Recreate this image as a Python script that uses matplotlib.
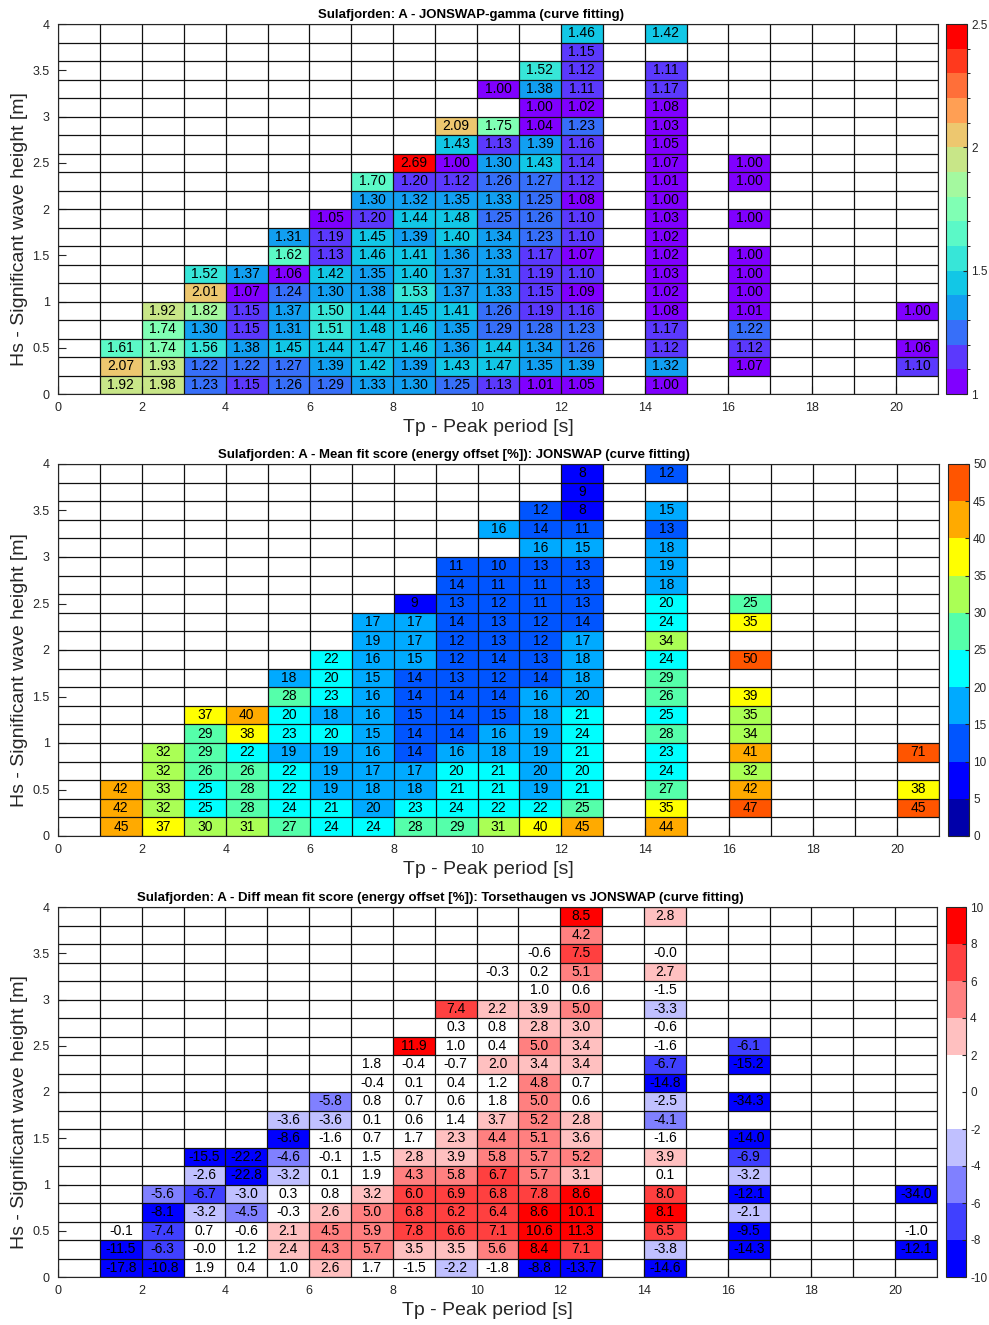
import matplotlib
matplotlib.use("Agg")
import matplotlib.pyplot as plt
import numpy as np
from matplotlib.colors import ListedColormap, BoundaryNorm
from matplotlib.cm import ScalarMappable
from matplotlib.ticker import FormatStrFormatter

plt.rcParams['font.family'] = ['Liberation Sans', 'DejaVu Sans']

# Tp bins (left edge, 1 s wide) that hold data; each list runs up the Hs bins (0.2 m) from 0
tp_cols = [1, 2, 3, 4, 5, 6, 7, 8, 9, 10, 11, 12, 14, 16, 20]

gamma = [
    [1.92, 2.07, 1.61],
    [1.98, 1.93, 1.74, 1.74, 1.92],
    [1.23, 1.22, 1.56, 1.30, 1.82, 2.01, 1.52],
    [1.15, 1.22, 1.38, 1.15, 1.15, 1.07, 1.37],
    [1.26, 1.27, 1.45, 1.31, 1.37, 1.24, 1.06, 1.62, 1.31],
    [1.29, 1.39, 1.44, 1.51, 1.50, 1.30, 1.42, 1.13, 1.19, 1.05],
    [1.33, 1.42, 1.47, 1.48, 1.44, 1.38, 1.35, 1.46, 1.45, 1.199, 1.30, 1.70],
    [1.30, 1.39, 1.46, 1.46, 1.45, 1.53, 1.40, 1.41, 1.39, 1.44, 1.32, 1.199, 2.69],
    [1.25, 1.43, 1.36, 1.35, 1.41, 1.37, 1.37, 1.36, 1.40, 1.48, 1.35, 1.12, 1.00, 1.43, 2.09],
    [1.13, 1.47, 1.44, 1.29, 1.26, 1.33, 1.31, 1.33, 1.34, 1.25, 1.33, 1.26, 1.30, 1.13, 1.75,
     None, 1.00],
    [1.01, 1.35, 1.34, 1.28, 1.19, 1.15, 1.19, 1.17, 1.23, 1.26, 1.25, 1.27, 1.43, 1.39, 1.04,
     1.00, 1.38, 1.52],
    [1.05, 1.39, 1.26, 1.23, 1.16, 1.09, 1.10, 1.07, 1.10, 1.10, 1.08, 1.12, 1.14, 1.16, 1.23,
     1.02, 1.11, 1.12, 1.15, 1.46],
    [1.00, 1.32, 1.12, 1.17, 1.08, 1.02, 1.03, 1.02, 1.02, 1.03, 1.00, 1.01, 1.07, 1.05, 1.03,
     1.08, 1.17, 1.11, None, 1.42],
    [None, 1.07, 1.12, 1.22, 1.01, 1.00, 1.00, 1.00, None, 1.00, None, 1.00, 1.00],
    [None, 1.10, 1.06, None, 1.00],
]

fit_score = [
    [44.6, 42, 42],
    [37, 32, 33, 32, 32],
    [30, 24.8, 24.6, 26, 29, 29, 37],
    [31, 28, 28, 26, 22, 38, 40.2],
    [27, 24, 22, 22, 19, 23, 20.3, 28, 18],
    [24, 21, 19, 19, 19, 20.2, 18, 23, 20.3, 22],
    [24, 19.7, 18, 17, 16, 15.2, 16, 16, 15.3, 16, 19, 17],
    [28, 23, 18, 17, 14, 14, 14.8, 14, 14, 15.2, 17, 17, 9],
    [29, 24, 21, 20.2, 16, 14, 14, 14, 13, 12, 12, 14, 13, 14, 11],
    [31, 22, 21, 21, 18, 16, 14.8, 14, 12, 14, 13, 13, 12, 11, 10.2, None, 16],
    [39.8, 22, 19, 19.7, 19, 19, 18, 16, 14, 13, 12, 12, 11, 11, 13, 16, 14, 12],
    [44.7, 25.2, 21, 20.3, 21, 24, 21, 19.8, 18, 18, 17, 14, 13, 13, 13, 15.2, 11, 8, 9, 8],
    [44, 35.2, 27, 24, 23, 28, 24.8, 26, 29, 24, 34, 24, 20.2, 18, 19, 18, 13, 15.2, None, 12],
    [None, 47, 42, 32, 41, 34, 34.8, 39, None, 50, None, 35.2, 25.2],
    [None, 45.2, 38, None, 71],
]

diff_score = [
    [-17.8, -11.5, -0.1],
    [-10.8, -6.3, -7.4, -8.1, -5.6],
    [1.9, -0.04, 0.7, -3.2, -6.7, -2.6, -15.5],
    [0.4, 1.2, -0.6, -4.5, -3.0, -22.8, -22.2],
    [1.0, 2.4, 2.1, -0.3, 0.3, -3.2, -4.6, -8.6, -3.6],
    [2.6, 4.3, 4.5, 2.6, 0.8, 0.1, -0.1, -1.6, -3.6, -5.8],
    [1.7, 5.7, 5.9, 5.0, 3.2, 1.9, 1.5, 0.7, 0.1, 0.8, -0.4, 1.8],
    [-1.5, 3.5, 7.8, 6.8, 6.0, 4.3, 2.8, 1.7, 0.6, 0.7, 0.1, -0.4, 11.9],
    [-2.2, 3.5, 6.6, 6.2, 6.9, 5.8, 3.9, 2.3, 1.4, 0.6, 0.4, -0.7, 1.0, 0.3, 7.4],
    [-1.8, 5.6, 7.1, 6.4, 6.8, 6.7, 5.8, 4.4, 3.7, 1.8, 1.2, 2.0, 0.4, 0.8, 2.2, None, -0.3],
    [-8.8, 8.4, 10.6, 8.6, 7.8, 5.7, 5.7, 5.1, 5.2, 5.0, 4.8, 3.4, 5.0, 2.8, 3.9, 1.0, 0.2, -0.6],
    [-13.7, 7.1, 11.3, 10.1, 8.6, 3.1, 5.2, 3.6, 2.8, 0.6, 0.7, 3.4, 3.4, 3.0, 5.0, 0.6, 5.1,
     7.5, 4.2, 8.5],
    [-14.6, -3.8, 6.5, 8.1, 7.96, 0.1, 3.9, -1.6, -4.1, -2.5, -14.8, -6.7, -1.6, -0.6, -3.3,
     -1.5, 2.7, -0.04, None, 2.8],
    [None, -14.3, -9.5, -2.1, -12.1, -3.2, -6.9, -14.0, None, -34.3, None, -15.2, -6.1],
    [None, -12.1, -1.0, None, -34.0],
]

tp_edges = np.arange(0, 22)
hs_edges = np.linspace(0, 4, 21)

# colour scales
cmap_gamma = plt.get_cmap('rainbow', 15)
norm_gamma = BoundaryNorm(np.linspace(1, 2.5, 16), 15, clip=True)

jet10 = [(0, 0, 2/3), (0, 0, 1), (0, 1/3, 1), (0, 2/3, 1), (0, 1, 1),
         (1/3, 1, 2/3), (2/3, 1, 1/3), (1, 1, 0), (1, 2/3, 0), (1, 1/3, 0)]
cmap_fit = ListedColormap(jet10)
norm_fit = BoundaryNorm(np.arange(0, 55, 5), 10, clip=True)

cmap_diff = ListedColormap(['#0000ff', '#4040ff', '#8080ff', '#c0c0ff', '#ffffff',
                            '#ffffff', '#ffc0c0', '#ff8080', '#ff4040', '#ff0000'])
norm_diff = BoundaryNorm(np.arange(-10, 12, 2), 10, clip=True)

axcol = '#262626'


def make_grid(cols):
    z = np.full((len(hs_edges) - 1, len(tp_edges) - 1), np.nan)
    for tp, col in zip(tp_cols, cols):
        for r, v in enumerate(col):
            if v is not None:
                z[r, tp] = v
    return z


def draw_panel(ax, cax, cols, cmap, norm, fmt, cticks, ctick_fmt, title, title_x):
    z = make_grid(cols)
    ax.pcolormesh(tp_edges, hs_edges, np.ma.masked_invalid(z), cmap=cmap, norm=norm)
    ax.vlines(tp_edges, 0, 4, color='#111111', lw=0.9, zorder=3)
    ax.hlines(hs_edges, 0, 21, color='#111111', lw=0.9, zorder=3)
    for r in range(z.shape[0]):
        for c in range(z.shape[1]):
            if not np.isnan(z[r, c]):
                ax.text(tp_edges[c] + 0.5, (hs_edges[r] + hs_edges[r + 1]) / 2, fmt % z[r, c],
                        ha='center', va='center', fontsize=10, color='black', zorder=4)
    ax.set_xlim(0, 21)
    ax.set_ylim(0, 4)
    ax.set_xticks(np.arange(0, 21, 2))
    ax.set_yticks(np.arange(0, 4.01, 0.5))
    ax.yaxis.set_major_formatter(FormatStrFormatter('%g'))
    ax.tick_params(direction='in', length=6, width=0.8, labelsize=9, colors=axcol, pad=6)
    for s in ax.spines.values():
        s.set_color(axcol)
        s.set_linewidth(0.8)
        s.set_zorder(5)
    ax.set_xlabel('Tp - Peak period [s]', fontsize=14, color=axcol)
    ax.set_ylabel('Hs - Significant wave height [m]', fontsize=14, color=axcol)
    ax.xaxis.set_label_coords(0.489, -0.068)
    ax.yaxis.set_label_coords(-0.034, 0.445)
    ax.set_title(title, fontsize=9.5, fontweight='bold', x=title_x, pad=4)

    cb = plt.colorbar(ScalarMappable(norm=norm, cmap=cmap), cax=cax)
    cb.set_ticks(cticks)
    cb.ax.yaxis.set_major_formatter(FormatStrFormatter(ctick_fmt))
    cb.ax.tick_params(direction='in', length=3, width=0.8, labelsize=8.5, colors=axcol, pad=3)
    cb.outline.set_edgecolor(axcol)
    cb.outline.set_linewidth(0.8)


W, H = 989, 1325
fig = plt.figure(figsize=(W / 100, H / 100), dpi=100)


def axes_px(left, top, right, bottom):
    return fig.add_axes([left / W, 1 - bottom / H, (right - left) / W, (bottom - top) / H])


ax1 = axes_px(58, 24, 938, 394)
cax1 = axes_px(946, 24, 967, 394)
ax2 = axes_px(58, 464, 939, 836)
cax2 = axes_px(948, 464, 969, 836)
ax3 = axes_px(58, 907, 937, 1277)
cax3 = axes_px(946, 907, 966, 1277)

draw_panel(ax1, cax1, gamma, cmap_gamma, norm_gamma, '%.2f', [1, 1.5, 2, 2.5], '%g',
           'Sulafjorden: A - JONSWAP-gamma (curve fitting)', 0.469)
draw_panel(ax2, cax2, fit_score, cmap_fit, norm_fit, '%.0f', np.arange(0, 55, 5), '%g',
           'Sulafjorden: A - Mean fit score (energy offset [%]): JONSWAP (curve fitting)', 0.449)
draw_panel(ax3, cax3, diff_score, cmap_diff, norm_diff, '%.1f', np.arange(-10, 12, 2), '%g',
           'Sulafjorden: A - Diff mean fit score (energy offset [%]): Torsethaugen vs JONSWAP '
           '(curve fitting)', 0.435)

fig.savefig('out.png', dpi=100, facecolor='white')
